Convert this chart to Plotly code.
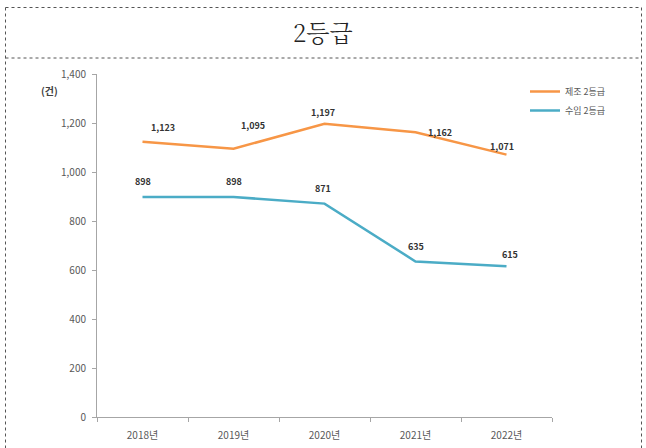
import plotly.graph_objects as go

years = ["2018년", "2019년", "2020년", "2021년", "2022년"]
manufacture = [1123, 1095, 1197, 1162, 1071]
imported = [898, 898, 871, 635, 615]
series_names = ["제조 2등급", "수입 2등급"]
y_ticks = [0, 200, 400, 600, 800, 1000, 1200, 1400]
y_tick_labels = ["0", "200", "400", "600", "800", "1,000", "1,200", "1,400"]
title_text = "2등급"
unit_text = "(건)"

W, H = 646, 448
L, R, T, B = 97, 94, 74, 31
pw, ph = W - L - R, H - T - B

def px(x):
    return (x - L) / pw

def py(y):
    return (H - B - y) / ph

KFONT = "Noto Sans CJK KR, Malgun Gothic, sans-serif"
ORANGE = "#F79646"
BLUE = "#4BACC6"

fig = go.Figure()
fig.add_trace(go.Scatter(x=years, y=manufacture, mode="lines", name=series_names[0],
                         line=dict(color=ORANGE, width=2.5)))
fig.add_trace(go.Scatter(x=years, y=imported, mode="lines", name=series_names[1],
                         line=dict(color=BLUE, width=2.5)))

# data labels (offsets in pixels)
orange_off = [(20, 14), (19, 23), (-2, 11), (24, 0), (-5, 8)]
blue_off = [(0, 15), (0, 15), (-2, 15), (0, 15), (3, 12)]
ann = []
for yr, v, (dx, dy) in zip(years, manufacture, orange_off):
    ann.append(dict(x=yr, y=v, text=f"<b>{v:,}</b>", showarrow=False, xshift=dx, yshift=dy,
                    font=dict(family=KFONT, size=9, color="#333333")))
for yr, v, (dx, dy) in zip(years, imported, blue_off):
    ann.append(dict(x=yr, y=v, text=f"<b>{v:,}</b>", showarrow=False, xshift=dx, yshift=dy,
                    font=dict(family=KFONT, size=9, color="#333333")))

ann.append(dict(xref="paper", yref="paper", x=px(323), y=py(33), yshift=21, text=title_text, showarrow=False,
                font=dict(family="Noto Serif CJK KR, Noto Sans CJK KR, serif", size=24,
                          color="#222222", weight=300)))
ann.append(dict(xref="paper", yref="paper", x=px(39), y=py(81), text=f"<b>{unit_text}</b>", showarrow=False,
                font=dict(family=KFONT, size=10, color="#404040")))

shapes = []
dot = dict(color="#555555", width=1, dash="dot")
# outer border
shapes.append(dict(type="line", xref="paper", yref="paper", x0=px(5.5), x1=px(641.5), y0=py(7.5), y1=py(7.5), line=dot))
shapes.append(dict(type="line", xref="paper", yref="paper", x0=px(5.5), x1=px(5.5), y0=py(7.5), y1=py(460), line=dot))
shapes.append(dict(type="line", xref="paper", yref="paper", x0=px(641.5), x1=px(641.5), y0=py(7.5), y1=py(460), line=dot))
shapes.append(dict(type="line", xref="paper", yref="paper", x0=px(5.5), x1=px(641.5), y0=py(58), y1=py(58), line=dot))

fig.update_layout(
    width=W, height=H,
    margin=dict(l=L, r=R, t=T, b=B, autoexpand=False),
    paper_bgcolor="white", plot_bgcolor="white",
    showlegend=True,
    legend=dict(x=px(525), y=py(77), xanchor="left", yanchor="top",
                font=dict(family=KFONT, size=9, color="#595959"),
                bgcolor="rgba(0,0,0,0)", itemwidth=30, tracegroupgap=0),
    annotations=ann,
    shapes=shapes,
)
fig.update_xaxes(type="category", range=[-0.5, 4.5], showline=True, linecolor="#A6A6A6", linewidth=1,
                 ticks="outside", tickson="boundaries", ticklen=4, tickcolor="#A6A6A6",
                 ticklabelstandoff=9, automargin=False,
                 showgrid=False, zeroline=False,
                 tickfont=dict(family=KFONT, size=10, color="#595959"))
fig.update_yaxes(range=[0, 1400], tickvals=y_ticks, ticktext=y_tick_labels,
                 showline=True, linecolor="#A6A6A6", linewidth=1, automargin=False,
                 ticks="outside", ticklen=4, tickcolor="#A6A6A6", ticklabelstandoff=4,
                 showgrid=False, zeroline=False,
                 tickfont=dict(family=KFONT, size=10, color="#595959"))

fig.write_html("out.html", config={"displayModeBar": False},
               post_script="document.body.style.margin='0';document.body.style.overflow='hidden';")
